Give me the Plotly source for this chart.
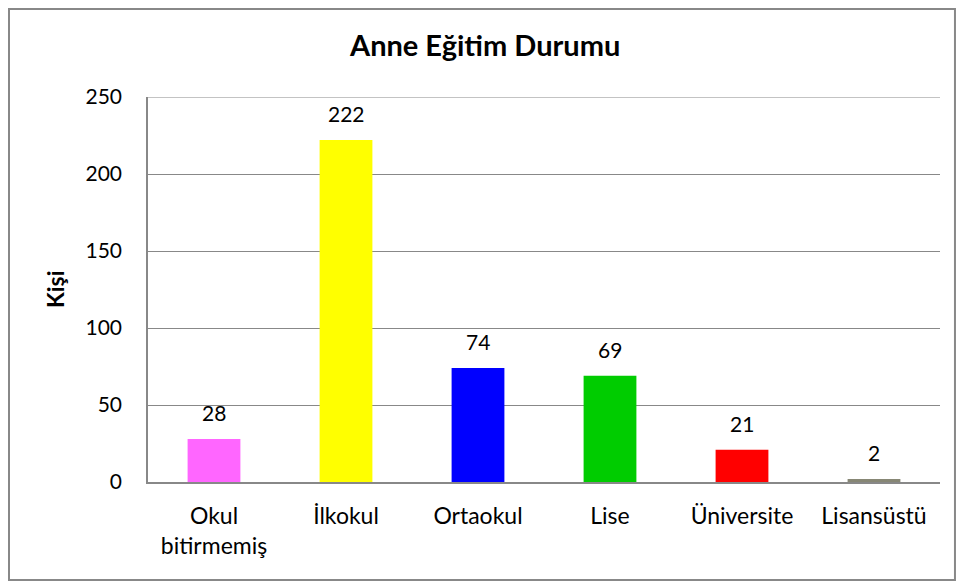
import plotly.graph_objects as go

categories = ["Okul<br>bitirmemiş", "İlkokul", "Ortaokul", "Lise", "Üniversite", "Lisansüstü"]
values = [28, 222, 74, 69, 21, 2]
colors = ["#FF66FF", "#FFFF00", "#0000FF", "#00CC00", "#FF0000", "#878775"]
y_ticks = [0, 50, 100, 150, 200, 250]

FONT = "Lato"

fig = go.Figure()
fig.add_trace(go.Bar(
    x=categories, y=values, marker_color=colors, marker_line_width=0,
    width=0.4, showlegend=False, hoverinfo="x+y",
))

for c, v in zip(categories, values):
    fig.add_annotation(x=c, y=v, text=str(v), showarrow=False,
                       yanchor="bottom", yshift=12,
                       font=dict(family=FONT, size=21, color="#000"))

# y-axis title
fig.add_annotation(xref="paper", yref="paper", x=-0.118, y=0.5,
                   text="<b>Kişi</b>", showarrow=False, textangle=-90,
                   xanchor="center", yanchor="middle",
                   font=dict(family=FONT, size=23, color="#000"))

# top gridline at the axis maximum
fig.add_shape(type="line", xref="paper", yref="y", x0=0, x1=1,
              y0=y_ticks[-1], y1=y_ticks[-1],
              line=dict(color="#888888", width=1))

# outer chart border
fig.add_shape(type="rect", xref="paper", yref="paper",
              x0=-0.1755, x1=1.0189, y0=-0.2545, y1=1.2286,
              line=dict(color="#888888", width=2), fillcolor="rgba(0,0,0,0)")

fig.update_layout(
    width=964, height=583,
    margin=dict(l=140, r=32, t=89, b=109, autoexpand=False),
    paper_bgcolor="white", plot_bgcolor="white",
    title=dict(text="<b>Anne Eğitim Durumu</b>", x=0.495, xanchor="center",
               y=0.935, yanchor="middle",
               font=dict(family=FONT, size=29, color="#000")),
    font=dict(family=FONT, size=21, color="#000"),
    bargap=0.6,
)
fig.update_yaxes(range=[0, 250], tickvals=y_ticks, showgrid=True,
                 gridcolor="#888888", gridwidth=1, showline=True,
                 linecolor="#888888", linewidth=1.5, zeroline=False,
                 ticks="", ticklabelstandoff=20, automargin=False,
                 tickfont=dict(family=FONT, size=21))
fig.update_xaxes(showline=True, linecolor="#888888", linewidth=2,
                 ticks="", ticklabelstandoff=12, automargin=False,
                 tickfont=dict(family=FONT, size=23))

fig.write_html("out.html")
